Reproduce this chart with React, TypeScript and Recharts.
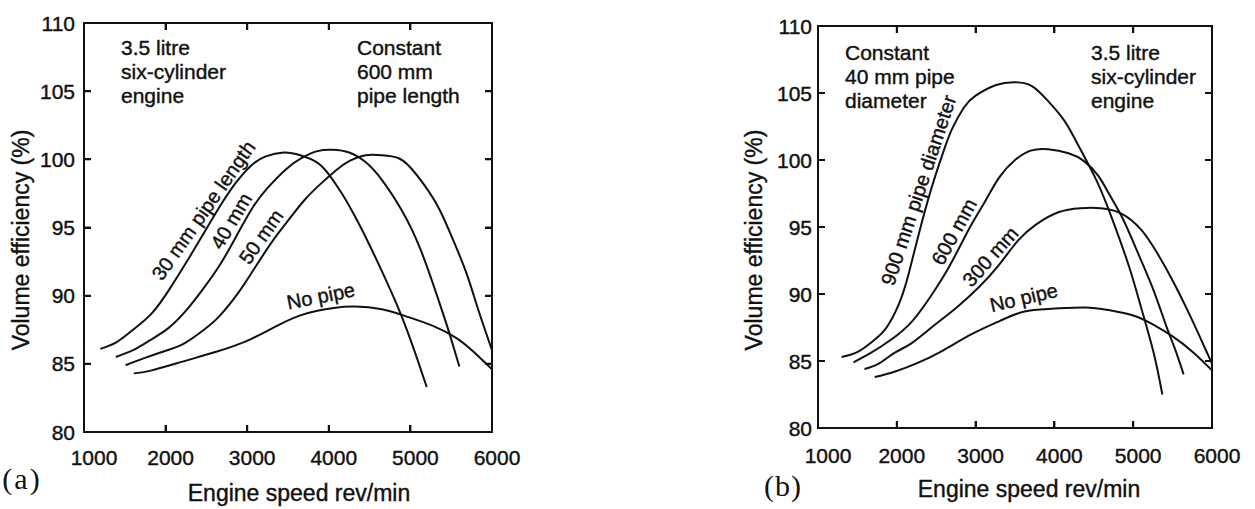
import React from 'react';
import { LineChart, Line, XAxis, YAxis, ReferenceDot } from 'recharts';

const SANS = '"Liberation Sans", Arial, Helvetica, sans-serif';
const SERIF = '"Liberation Serif", "Times New Roman", serif';
const INK = '#111';

// ---------- shared axes ----------
const xTicks = [1000, 2000, 3000, 4000, 5000, 6000];
const yTicks = [80, 85, 90, 95, 100, 105, 110];
const X_MIN = 1000;
const X_MAX = 6000;
const Y_MIN = 80;
const Y_MAX = 110;

// ---------- panel (a): constant 600 mm pipe length ----------
const a30mm = [
  [1200, 86.1], [1400, 86.6], [1600, 87.5], [1830, 88.7], [2050, 90.5], [2260, 92.5],
  [2460, 94.5], [2660, 96.5], [2850, 98.2], [3040, 99.5], [3220, 100.2], [3450, 100.5],
  [3650, 100.3], [3850, 99.8], [4000, 98.9], [4170, 97.4], [4340, 95.6], [4500, 93.7],
  [4650, 91.8], [4830, 89.4], [4950, 87.6], [5070, 85.6], [5200, 83.3],
];
const a40mm = [
  [1390, 85.5], [1600, 86.0], [1800, 86.7], [2030, 87.6], [2250, 88.9], [2460, 90.5],
  [2670, 92.3], [2870, 94.4], [3060, 96.4], [3250, 97.9], [3480, 99.3], [3670, 100.1],
  [3860, 100.6], [4050, 100.7], [4250, 100.5], [4450, 99.8], [4650, 98.5], [4890, 96.3],
  [5130, 93.3], [5360, 89.4], [5480, 87.2], [5600, 84.8],
];
const a50mm = [
  [1510, 84.9], [1730, 85.4], [2020, 86.0], [2230, 86.5], [2470, 87.5], [2660, 88.5],
  [2890, 90.2], [3100, 92.1], [3310, 94.0], [3500, 95.5], [3700, 97.0], [3900, 98.2],
  [4090, 99.2], [4260, 99.9], [4450, 100.3], [4650, 100.3], [4850, 100.1], [5000, 99.4],
  [5160, 98.2], [5350, 96.4], [5530, 94.0], [5690, 91.6], [5830, 89.0], [6000, 86.0],
];
const aNoPipe = [
  [1610, 84.3], [1820, 84.5], [2230, 85.2], [2630, 85.9], [3040, 86.8], [3370, 87.8],
  [3650, 88.55], [3860, 88.9], [4060, 89.1], [4320, 89.2], [4650, 89.0], [4940, 88.5],
  [5270, 87.8], [5560, 86.9], [5770, 85.9], [6000, 84.6],
];

// ---------- panel (b): constant 40 mm pipe diameter ----------
const b900mm = [
  [1300, 85.3], [1510, 85.7], [1720, 86.6], [1870, 87.5], [2030, 89.3], [2150, 91.5],
  [2280, 94.5], [2440, 97.9], [2590, 100.6], [2700, 102.3], [2850, 103.9], [3000, 104.8],
  [3260, 105.6], [3510, 105.8], [3720, 105.5], [3920, 104.4], [4130, 102.9], [4330, 100.8],
  [4540, 98.4], [4740, 95.5], [4950, 92.0], [5100, 89.0], [5260, 85.6], [5370, 82.5],
];
const b600mm = [
  [1450, 84.9], [1670, 85.6], [1930, 86.6], [2200, 88.0], [2450, 90.0], [2680, 92.2],
  [2930, 95.0], [3120, 96.9], [3300, 98.7], [3500, 100.0], [3700, 100.7], [3920, 100.8],
  [4180, 100.5], [4380, 99.9], [4560, 98.8], [4700, 97.4], [4870, 95.6], [5050, 93.2],
  [5250, 90.4], [5420, 87.6], [5530, 85.9], [5640, 84.0],
];
const b300mm = [
  [1590, 84.4], [1770, 84.8], [1970, 85.6], [2180, 86.3], [2440, 87.5], [2760, 89.0],
  [3040, 90.5], [3300, 92.2], [3540, 94.0], [3770, 95.2], [4050, 96.1], [4330, 96.4],
  [4590, 96.4], [4850, 96.0], [5100, 94.8], [5310, 93.0], [5510, 90.9], [5720, 88.4],
  [5900, 86.1], [6000, 84.8],
];
const bNoPipe = [
  [1720, 83.8], [1970, 84.2], [2280, 84.9], [2590, 85.8], [2950, 87.0], [3310, 88.0],
  [3620, 88.7], [3970, 88.9], [4390, 89.0], [4690, 88.8], [5000, 88.4], [5260, 87.7],
  [5510, 86.8], [5770, 85.6], [6000, 84.3],
];

// curve labels: text, rpm at label centre and rpm span along its curve
const aCurveLabelText = ['30 mm pipe length', '40 mm', '50 mm', 'No pipe'];
const aCurveLabelRpm = [2585, 2930, 3290, 3935];
const aCurveLabelSpan = [[2030, 3150], [2720, 3130], [3080, 3500], [3525, 4345]];
const bCurveLabelText = ['900 mm pipe diameter', '600 mm', '300 mm', 'No pipe'];
const bCurveLabelRpm = [2420, 2860, 3300, 3650];
const bCurveLabelSpan = [[2000, 2840], [2630, 3090], [2980, 3620], [3235, 4065]];

const aNotesLeft = ['3.5 litre', 'six-cylinder', 'engine'];
const aNotesRight = ['Constant', '600 mm', 'pipe length'];
const bNotesLeft = ['Constant', '40 mm pipe', 'diameter'];
const bNotesRight = ['3.5 litre', 'six-cylinder', 'engine'];

const xTitle = 'Engine speed rev/min';
const yTitle = 'Volume efficiency (%)';

const toPts = (rows: number[][]) => rows.map(([rpm, v]) => ({ rpm, v }));
const interp = (rows: number[][], r: number) => {
  if (r <= rows[0][0]) return rows[0][1];
  for (let i = 1; i < rows.length; i++) {
    if (r <= rows[i][0]) {
      const [x0, y0] = rows[i - 1];
      const [x1, y1] = rows[i];
      return y0 + ((y1 - y0) * (r - x0)) / (x1 - x0);
    }
  }
  return rows[rows.length - 1][1];
};

// ---------- layout (pixels) ----------
const W = 1255;
const H = 509;
const TICK = 7;
const Y_AXIS_W = 60;
const X_AXIS_H = 40;
const lineStyle = { stroke: INK, strokeWidth: 2 };
const textStyle = { fontFamily: SANS, fill: INK, stroke: INK, strokeWidth: 0.4 };

const panelA = {
  left: 0,
  width: 530,
  plotW: 408,
  plotH: 409,
  margin: { top: 23, right: 38, bottom: 37, left: 24 },
  xTickMargin: 25,
  yTickMargin: 9,
  series: [a30mm, a40mm, a50mm, aNoPipe],
  labelText: aCurveLabelText,
  labelRpm: aCurveLabelRpm,
  labelSpan: aCurveLabelSpan,
  labelGap: [12, 12, 12, 14],
};
const panelB = {
  left: 640,
  width: 615,
  plotW: 394,
  plotH: 402,
  margin: { top: 26, right: 43, bottom: 41, left: 118 },
  xTickMargin: 27,
  yTickMargin: 6,
  series: [b900mm, b600mm, b300mm, bNoPipe],
  labelText: bCurveLabelText,
  labelRpm: bCurveLabelRpm,
  labelSpan: bCurveLabelSpan,
  labelGap: [12, 12, 12, 14],
};

const BottomTick = (p: any) => (
  <text x={p.x + (p.index === 0 ? 10 : 5)} y={p.y} textAnchor="middle" dominantBaseline="central" fontSize={21} {...textStyle}>
    {p.payload.value}
  </text>
);

const LeftTick = (p: any) => (
  <text x={p.x} y={p.y} textAnchor="end" dominantBaseline="central" fontSize={21} {...textStyle}>
    {p.payload.value}
  </text>
);

// label hugging a curve: anchored on the curve, rotated along the chord, shifted off the curve
const curveLabel = (text: string, dxPx: number, dyPx: number, gap: number) => (props: any) => {
  const vb = props.viewBox || {};
  const ax = (vb.x || 0) + (vb.width || 0) / 2;
  const ay = (vb.y || 0) + (vb.height || 0) / 2;
  const len = Math.hypot(dxPx, dyPx) || 1;
  const cx = ax + (dyPx / len) * gap;
  const cy = ay + (-dxPx / len) * gap;
  const ang = (Math.atan2(dyPx, dxPx) * 180) / Math.PI;
  return (
    <text
      x={cx}
      y={cy}
      textAnchor="middle"
      dominantBaseline="central"
      transform={`rotate(${ang} ${cx} ${cy})`}
      fontSize={20}
      {...textStyle}
    >
      {text}
    </text>
  );
};

// plot-area geometry of a panel (same numbers the chart margins use)
const geom = (cfg: typeof panelA) => {
  const x0 = cfg.left + cfg.margin.left + Y_AXIS_W;
  const y0 = cfg.margin.top;
  const kx = cfg.plotW / (X_MAX - X_MIN);
  const ky = cfg.plotH / (Y_MAX - Y_MIN);
  return { x0, y0, kx, ky, xr: x0 + cfg.plotW, yb: y0 + cfg.plotH };
};

// box frame with inward ticks on all four sides (SVG)
function FrameSvg({ cfg }: { cfg: typeof panelA }) {
  const { x0, y0, kx, ky, xr, yb } = geom(cfg);
  let d = `M${x0},${y0} L${xr},${y0} L${xr},${yb} L${x0},${yb} Z`;
  xTicks.forEach((t) => {
    const x = x0 + (t - X_MIN) * kx;
    d += ` M${x},${yb} L${x},${yb - TICK} M${x},${y0} L${x},${y0 + TICK}`;
  });
  yTicks.forEach((t) => {
    const y = y0 + (Y_MAX - t) * ky;
    d += ` M${x0},${y} L${x0 + TICK},${y} M${xr},${y} L${xr - TICK},${y}`;
  });
  return <path d={d} fill="none" stroke={INK} strokeWidth={2} strokeLinecap="butt" />;
}

// same frame as plain boxes
function FrameBoxes({ cfg }: { cfg: typeof panelA }) {
  const { x0, y0, kx, ky, xr, yb } = geom(cfg);
  const box = (key: string, left: number, top: number, w: number, h: number) => (
    <div key={key} style={{ position: 'absolute', left, top, width: w, height: h, background: INK }} />
  );
  const items = [
    box('t', x0 - 1, y0 - 1, cfg.plotW + 2, 2),
    box('b', x0 - 1, yb - 1, cfg.plotW + 2, 2),
    box('l', x0 - 1, y0 - 1, 2, cfg.plotH + 2),
    box('r', xr - 1, y0 - 1, 2, cfg.plotH + 2),
  ];
  xTicks.forEach((t) => {
    const x = x0 + (t - X_MIN) * kx;
    items.push(box(`xb${t}`, x - 1, yb - TICK, 2, TICK));
    items.push(box(`xt${t}`, x - 1, y0, 2, TICK));
  });
  yTicks.forEach((t) => {
    const y = y0 + (Y_MAX - t) * ky;
    items.push(box(`yl${t}`, x0, y - 1, TICK, 2));
    items.push(box(`yr${t}`, xr - TICK, y - 1, TICK, 2));
  });
  return <>{items}</>;
}

function Panel({ cfg }: { cfg: typeof panelA }) {
  const { kx, ky } = geom(cfg);
  return (
    <div style={{ position: 'absolute', left: cfg.left, top: 0 }}>
      <LineChart width={cfg.width} height={H} margin={cfg.margin}>
        <XAxis
          dataKey="rpm"
          type="number"
          domain={[X_MIN, X_MAX]}
          ticks={xTicks}
          interval={0}
          allowDataOverflow
          height={X_AXIS_H}
          tickSize={0}
          tickMargin={cfg.xTickMargin}
          axisLine={lineStyle}
          tickLine={false}
          tick={BottomTick}
        />
        <YAxis
          type="number"
          domain={[Y_MIN, Y_MAX]}
          ticks={yTicks}
          interval={0}
          allowDataOverflow
          width={Y_AXIS_W}
          tickSize={0}
          tickMargin={cfg.yTickMargin}
          axisLine={lineStyle}
          tickLine={false}
          tick={LeftTick}
        />
        {cfg.series.map((s, i) => (
          <Line
            key={i}
            data={toPts(s)}
            dataKey="v"
            type="natural"
            stroke={INK}
            strokeWidth={2}
            dot={false}
            activeDot={false}
            isAnimationActive={false}
          />
        ))}
        {cfg.labelText.map((text, i) => {
          const s = cfg.series[i];
          const [r0, r1] = cfg.labelSpan[i];
          const dxPx = (r1 - r0) * kx;
          const dyPx = -(interp(s, r1) - interp(s, r0)) * ky;
          const rc = cfg.labelRpm[i];
          return (
            <ReferenceDot
              key={`l${i}`}
              x={rc}
              y={interp(s, rc)}
              r={0}
              fill="none"
              stroke="none"
              ifOverflow="visible"
              label={curveLabel(text, dxPx, dyPx, cfg.labelGap[i])}
            />
          );
        })}
      </LineChart>
    </div>
  );
}

const Notes = ({ lines, x, y }: { lines: string[]; x: number; y: number }) => (
  <text x={x} y={y} fontSize={21} {...textStyle}>
    {lines.map((t, i) => (
      <tspan key={i} x={x} dy={i === 0 ? 0 : 24}>
        {t}
      </tspan>
    ))}
  </text>
);

export default function App() {
  return (
    <div style={{ position: 'absolute', left: 0, top: 0, width: W, height: H, background: '#fff', overflow: 'hidden' }}>
      <Panel cfg={panelA} />
      <Panel cfg={panelB as any} />
      <FrameBoxes cfg={panelA} />
      <FrameBoxes cfg={panelB as any} />
      <svg width={W} height={H} style={{ position: 'absolute', left: 0, top: 0, pointerEvents: 'none' }}>
        <FrameSvg cfg={panelA} />
        <FrameSvg cfg={panelB as any} />

        <Notes lines={aNotesLeft} x={121} y={55} />
        <Notes lines={aNotesRight} x={357} y={55} />
        <Notes lines={bNotesLeft} x={845} y={60} />
        <Notes lines={bNotesRight} x={1091} y={60} />

        <text x={299} y={501} textAnchor="middle" fontSize={23} {...textStyle}>{xTitle}</text>
        <text x={1029} y={497} textAnchor="middle" fontSize={23} {...textStyle}>{xTitle}</text>
        <text x={21} y={240} textAnchor="middle" dominantBaseline="central" transform="rotate(-90 21 240)" fontSize={23} {...textStyle}>{yTitle}</text>
        <text x={754} y={240} textAnchor="middle" dominantBaseline="central" transform="rotate(-90 754 240)" fontSize={23} {...textStyle}>{yTitle}</text>

        <text x={22} y={478} textAnchor="middle" dominantBaseline="central" fontFamily={SERIF} fontSize={30} letterSpacing={2} fill={INK}>(a)</text>
        <text x={783} y={485} textAnchor="middle" dominantBaseline="central" fontFamily={SERIF} fontSize={30} letterSpacing={1} fill={INK}>(b)</text>
      </svg>
    </div>
  );
}
